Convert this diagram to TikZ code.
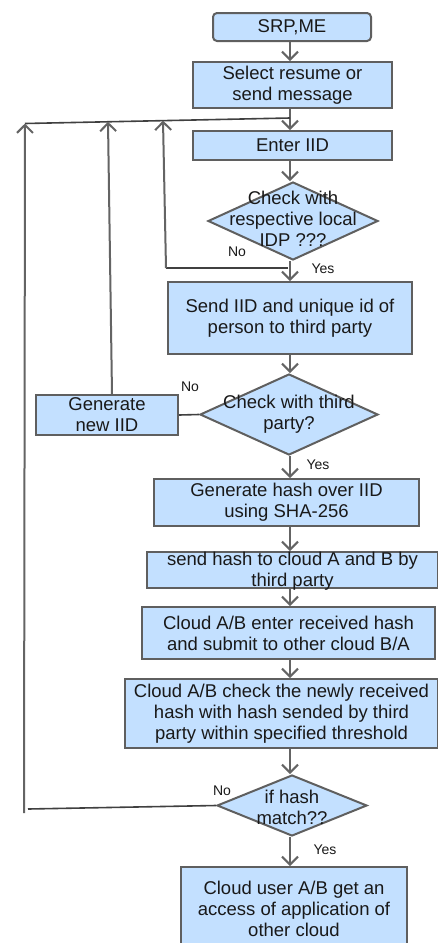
\documentclass[tikz,border=0pt]{standalone}
\usepackage{fontspec}
\setmainfont{Liberation Sans}
\usetikzlibrary{shapes.geometric,arrows.meta}
\definecolor{boxfill}{RGB}{195,224,255}
\definecolor{boxline}{RGB}{95,95,95}
\definecolor{arrline}{RGB}{100,100,100}
\newcommand\boxfont{\fontsize{18.5}{21}\selectfont}
\newcommand\lblfont{\fontsize{14}{16}\selectfont}
\begin{document}
\begin{tikzpicture}[x=1pt,y=-1pt,
  box/.style={draw=boxline, fill=boxfill, line width=2pt, inner sep=0pt, align=center, font=\boxfont, text=black!90},
  dia/.style={diamond, draw=boxline, fill=boxfill, line width=2pt, inner sep=0pt},
  txt/.style={align=center, font=\boxfont, inner sep=0pt, text=black!90},
  lbl/.style={font=\lblfont, inner sep=0pt, text=black!90},
  arr/.style={draw=arrline, line width=2pt, -{Straight Barb[length=8pt,width=16pt,line width=2pt]}},
  fb/.style={draw=black!75, line width=1.6pt},
  vl/.style={draw=arrline, line width=2pt}]
\useasboundingbox (0,0) rectangle (438,943);
\fill[white] (0,0) rectangle (438,943);

% main nodes
\node[box, rounded corners=4pt, minimum width=158pt, minimum height=28pt] (n1) at (292,27) {SRP,ME};
\node[box, minimum width=199pt, minimum height=46pt] (n2) at (292.5,85) {Select resume or\\send message};
\node[box, minimum width=199pt, minimum height=29pt] (n3) at (292.5,145.5) {Enter IID};
\node[dia, minimum width=170pt, minimum height=78pt] (d1) at (293,221) {};
\node[txt] (t1) at (293,219) {Check with\\respective local\\IDP ???};
\node[box, minimum width=244pt, minimum height=72pt] (n4) at (290,318) {Send IID and unique id of\\person to third party};
\node[dia, minimum width=178pt, minimum height=81pt] (d2) at (289,414.5) {};
\node[txt] (t2) at (289,414.5) {Check with third\\party?};
\node[box, minimum width=142pt, minimum height=40pt] (g) at (107,415) {Generate\\new IID};
\node[box, minimum width=265pt, minimum height=47pt] (n5) at (286.5,502.5) {Generate hash over IID\\using SHA-256};
\node[box, minimum width=291pt, minimum height=36pt] (n6) at (292.5,570) {};
\node[txt] (t6) at (292.5,571) {send hash to cloud A and B by\\third party};
\node[box, minimum width=293pt, minimum height=52pt] (n7) at (288.5,633) {Cloud A/B enter received hash\\and submit to other cloud B/A};
\node[box, minimum width=313pt, minimum height=69pt] (n8) at (281.5,713.5) {Cloud A/B check the newly received\\hash with hash sended by third\\party within specified threshold};
\node[dia, minimum width=150pt, minimum height=61pt] (d3) at (292,805.5) {};
\node[txt] (t3) at (292,807) {if hash\\match??};
\node[box, minimum width=226pt, minimum height=83pt] (n9) at (294,908.5) {Cloud user A/B get an\\access of application of\\other cloud};

% axis and junction coordinates
\coordinate (ax) at (290,0);
\coordinate (J) at (290,118);
\coordinate (T1) at (25,123.5);
\coordinate (T2) at (108,121.8);
\coordinate (T3) at (163,120.6);
\coordinate (K1) at (288,268);
\coordinate (L1) at (166,268);
\coordinate (F3) at (28,809);
\coordinate (V3) at (24,813);

% main flow
\draw[arr] (n1.south -| ax) -- (n2.north -| ax);
\draw[arr] (n2.south -| ax) -- (n3.north -| ax);
\draw[arr] (n3.south -| ax) -- (d1.north -| ax);
\draw[arr] (d1.south -| ax) -- (n4.north -| ax);
\draw[arr] (n4.south -| ax) -- (d2.north -| ax);
\draw[arr] (d2.south -| ax) -- (n5.north -| ax);
\draw[arr] (n5.south -| ax) -- (n6.north -| ax);
\draw[arr] (n6.south -| ax) -- (n7.north -| ax);
\draw[arr] (n7.south -| ax) -- (n8.north -| ax);
\draw[arr] (n8.south -| ax) -- (d3.north -| ax);
\draw[arr] (d3.south -| ax) -- (n9.north -| ax);

% feedback loops
\draw[fb] (J) -- (T1);
\draw[fb] (K1) -- (L1);
\draw[arr] (L1) -- (T3);
\draw[fb] (d2.west) -- (g.east);
\draw[arr] ([xshift=5pt]g.north) -- (T2);
\draw[fb] (d3.west) -- (F3);
\draw[arr] (V3) -- (T1);

% labels
\node[lbl] (no1) at (237,252) {No};
\node[lbl] (yes1) at (323,269) {Yes};
\node[lbl] (no2) at (190,387) {No};
\node[lbl] (yes2) at (318,465) {Yes};
\node[lbl] (no3) at (222,791) {No};
\node[lbl] (yes3) at (325,850) {Yes};
\end{tikzpicture}
\end{document}
